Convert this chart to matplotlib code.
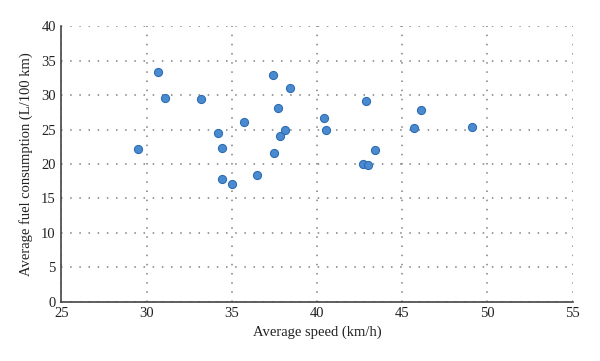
import matplotlib
matplotlib.use("Agg")
import matplotlib.pyplot as plt

# average speed (km/h) and average fuel consumption (L/100 km)
speed = [29.5, 30.7, 31.1, 33.2, 34.2, 34.4, 34.4, 35.0, 35.7, 36.5,
         37.4, 38.4, 37.7, 38.1, 37.8, 37.5, 40.4, 40.5, 42.9, 43.4,
         42.7, 43.0, 46.1, 45.7, 49.1]
fuel = [22.2, 33.3, 29.6, 29.5, 24.5, 22.4, 17.8, 17.1, 26.1, 18.4,
        32.9, 31.1, 28.2, 24.9, 24.0, 21.6, 26.7, 25.0, 29.1, 22.1,
        20.0, 19.8, 27.9, 25.2, 25.4]

xticks = [25, 30, 35, 40, 45, 50, 55]
yticks = [0, 5, 10, 15, 20, 25, 30, 35, 40]

plt.rcParams['font.family'] = ['Liberation Serif', 'DejaVu Serif']

fig = plt.figure(figsize=(6, 3.61), dpi=100)
ax = fig.add_axes([0.1022, 0.1643, 0.8523, 0.7627])

ax.scatter(speed, fuel, s=34, color='#4a8ad0', edgecolors='#2f6db3',
           linewidths=0.8, zorder=3)

ax.set_xlim(25, 55)
ax.set_ylim(0, 40)
ax.set_xticks(xticks)
ax.set_yticks(yticks)
ax.tick_params(length=0, labelsize=10.5, colors='#222222', pad=4)

ax.grid(True, color='#7f7f7f', linestyle=(0, (1, 5)), linewidth=1.1)
ax.set_axisbelow(True)

for side in ['top', 'right']:
    ax.spines[side].set_visible(False)
for side in ['left', 'bottom']:
    ax.spines[side].set_color('#444444')
    ax.spines[side].set_linewidth(1.2)

ax.set_xlabel('Average speed (km/h)', fontsize=10.5, color='#222222', labelpad=4)
ax.set_ylabel('Average fuel consumption (L/100 km)', fontsize=10.5,
              color='#222222', labelpad=6)

fig.savefig('out.png', dpi=100)
